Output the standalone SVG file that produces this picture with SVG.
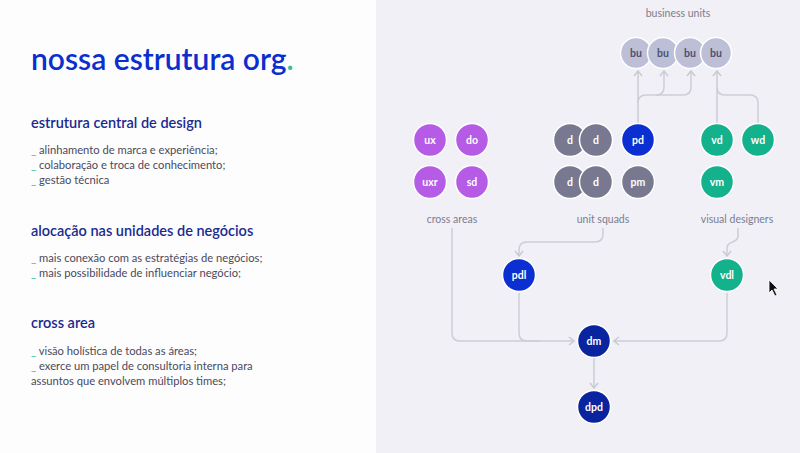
<svg xmlns="http://www.w3.org/2000/svg" width="800" height="453" viewBox="0 0 800 453">
<defs>
<style>
.title{font-family:Lato,"Open Sans",sans-serif;font-size:30px;font-weight:600;fill:#0a2ecf}
.h{font-family:Lato,"Open Sans",sans-serif;font-size:14.5px;font-weight:600;fill:#1a2a8f}
.b{font-family:Lato,"Open Sans",sans-serif;font-size:11.2px;fill:#4a4a5c}
.t{fill:#2bbf9f}
.lbl{font-family:Lato,"Open Sans",sans-serif;font-size:10.5px;fill:#7c7d8e;text-anchor:middle}
.nt{font-family:Lato,"Open Sans",sans-serif;font-size:10.5px;font-weight:700;fill:#ffffff;text-anchor:middle}
.bt{font-family:Lato,"Open Sans",sans-serif;font-size:10.5px;font-weight:700;fill:#4d5170;text-anchor:middle}
.n{stroke:#ffffff;stroke-width:1.5}
.purple{fill:#b55be6}
.gray{fill:#787990}
.blue{fill:#0b2fd0}
.green{fill:#14b28c}
.navy{fill:#0a24a0}
.bu{fill:#bcbfd6}
.c{fill:none;stroke:#cdcdd7;stroke-width:1.5}
</style>
<marker id="arr" viewBox="-6 -5 7 10" refX="0" refY="0" markerWidth="7" markerHeight="10" orient="auto" markerUnits="userSpaceOnUse">
<path d="M-5,-4 L0,0 L-5,4" fill="none" stroke="#c9c9d3" stroke-width="1.5"/>
</marker>
</defs>
<rect x="0" y="0" width="800" height="453" fill="#fdfdfe"/>
<rect x="376" y="0" width="424" height="453" fill="#f0f0f6"/>

<g id="left-text">
<text class="title" x="31" y="70">nossa estrutura org<tspan class="t">.</tspan></text>
<text class="h" x="31" y="128">estrutura central de design</text>
<text class="b" x="31" y="154"><tspan class="t">_</tspan> alinhamento de marca e experiência;</text>
<text class="b" x="31" y="169"><tspan class="t">_</tspan> colaboração e troca de conhecimento;</text>
<text class="b" x="31" y="184"><tspan class="t">_</tspan> gestão técnica</text>
<text class="h" x="31" y="236">alocação nas unidades de negócios</text>
<text class="b" x="31" y="262"><tspan class="t">_</tspan> mais conexão com as estratégias de negócios;</text>
<text class="b" x="31" y="277"><tspan class="t">_</tspan> mais possibilidade de influenciar negócio;</text>
<text class="h" x="31" y="328">cross area</text>
<text class="b" x="31" y="355"><tspan class="t">_</tspan> visão holística de todas as áreas;</text>
<text class="b" x="31" y="370"><tspan class="t">_</tspan> exerce um papel de consultoria interna para</text>
<text class="b" x="31" y="385">assuntos que envolvem múltiplos times;</text>
</g>

<g id="connectors">
<path class="c" d="M452 228 V333 Q452 341 460 341 H574" marker-end="url(#arr)"/>
<path class="c" d="M519 293 V333 Q519 341 527 341 H540"/>
<path class="c" d="M727 293 V333 Q727 341 719 341 H614" marker-end="url(#arr)"/>
<path class="c" d="M594 358 V388" marker-end="url(#arr)"/>
<path class="c" d="M603 228 V234 Q603 242 595 242 H527 Q519 242 519 250 V256" marker-end="url(#arr)"/>
<path class="c" d="M738 228 V236 C738 244 727 240 727 248 V256" marker-end="url(#arr)"/>
<path class="c" d="M638 123 V71" marker-end="url(#arr)"/>
<path class="c" d="M638 103 Q638 95 646 95 H683 Q691 95 691 87 V71" marker-end="url(#arr)"/>
<path class="c" d="M656 95 Q664 95 664 87 V71" marker-end="url(#arr)"/>
<path class="c" d="M717 123 V71" marker-end="url(#arr)"/>
<path class="c" d="M758 123 V103 Q758 95 750 95 H725 Q717 95 717 87"/>
</g>

<g id="business-units">
<text class="lbl" x="678" y="17">business units</text>
<g id="bu1"><circle class="n bu" cx="636" cy="53" r="15.5"/><text class="bt" x="636" y="57">bu</text></g>
<g id="bu2"><circle class="n bu" cx="663" cy="53" r="15.5"/><text class="bt" x="663" y="57">bu</text></g>
<g id="bu3"><circle class="n bu" cx="690" cy="53" r="15.5"/><text class="bt" x="690" y="57">bu</text></g>
<g id="bu4"><circle class="n bu" cx="716" cy="53" r="15.5"/><text class="bt" x="716" y="57">bu</text></g>
</g>

<g id="cross-areas">
<g id="ux"><circle class="n purple" cx="430" cy="140" r="16.5"/><text class="nt" x="430" y="144">ux</text></g>
<g id="do"><circle class="n purple" cx="472" cy="140" r="16.5"/><text class="nt" x="472" y="144">do</text></g>
<g id="uxr"><circle class="n purple" cx="430" cy="182" r="16.5"/><text class="nt" x="430" y="186">uxr</text></g>
<g id="sd"><circle class="n purple" cx="472" cy="182" r="16.5"/><text class="nt" x="472" y="186">sd</text></g>
<text class="lbl" x="452" y="223">cross areas</text>
</g>

<g id="unit-squads">
<g id="d1"><circle class="n gray" cx="570" cy="140" r="16.5"/><text class="nt" x="570" y="144">d</text></g>
<g id="d2"><circle class="n gray" cx="596" cy="140" r="16.5"/><text class="nt" x="596" y="144">d</text></g>
<g id="pd"><circle class="n blue" cx="638" cy="140" r="16.5"/><text class="nt" x="638" y="144">pd</text></g>
<g id="d3"><circle class="n gray" cx="570" cy="182" r="16.5"/><text class="nt" x="570" y="186">d</text></g>
<g id="d4"><circle class="n gray" cx="596" cy="182" r="16.5"/><text class="nt" x="596" y="186">d</text></g>
<g id="pm"><circle class="n gray" cx="638" cy="182" r="16.5"/><text class="nt" x="638" y="186">pm</text></g>
<text class="lbl" x="603" y="223">unit squads</text>
</g>

<g id="visual-designers">
<g id="vd"><circle class="n green" cx="717" cy="140" r="16.5"/><text class="nt" x="717" y="144">vd</text></g>
<g id="wd"><circle class="n green" cx="758" cy="140" r="16.5"/><text class="nt" x="758" y="144">wd</text></g>
<g id="vm"><circle class="n green" cx="717" cy="182" r="16.5"/><text class="nt" x="717" y="186">vm</text></g>
<text class="lbl" x="737" y="223">visual designers</text>
</g>

<g id="pdl"><circle class="n blue" cx="519" cy="275" r="16.5"/><text class="nt" x="519" y="279">pdl</text></g>
<g id="vdl"><circle class="n green" cx="727" cy="275" r="16.5"/><text class="nt" x="727" y="279">vdl</text></g>
<g id="dm"><circle class="n navy" cx="594" cy="341" r="16.5"/><text class="nt" x="594" y="345">dm</text></g>
<g id="dpd"><circle class="n navy" cx="594" cy="407" r="16.5"/><text class="nt" x="594" y="411">dpd</text></g>

<path d="M769 280 L769 293 L772 290 L775 296 L777 295 L774 289 L778 289 Z" fill="#111" stroke="#fff" stroke-width="0.8"/>
</svg>
